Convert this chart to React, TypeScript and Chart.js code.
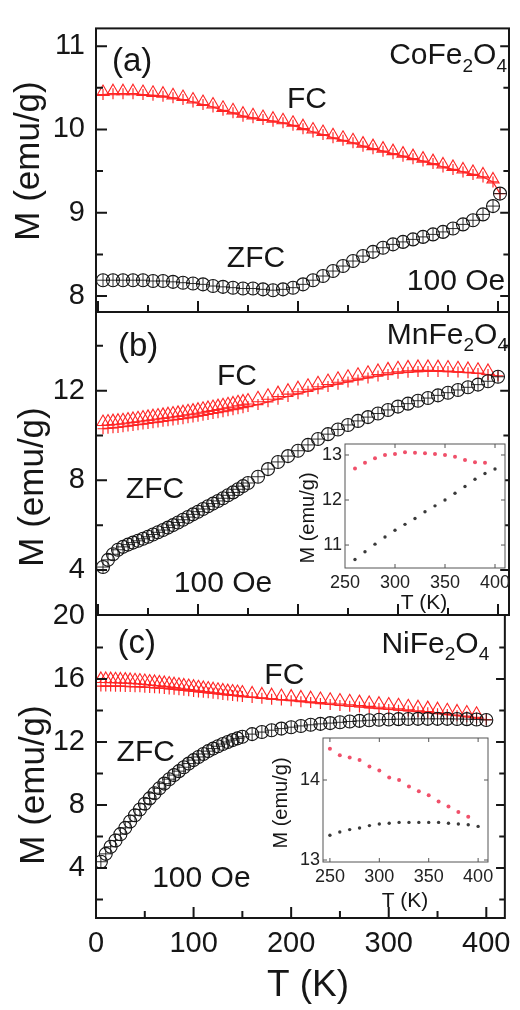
import { useEffect, useRef } from "react";
import { Chart, registerables } from "chart.js";

Chart.register(...registerables);

const W = 520;
const H = 1010;
const FONT = '"Liberation Sans", Arial, Helvetica, sans-serif';
const RED = "#ff2424";
const INK = "#161616";

// ---------- (a) CoFe2O4 ----------
const tempA = [5, 15, 25, 35, 45, 55, 65, 75, 85, 95, 105, 115, 125, 135, 145, 155, 165, 175, 185, 195, 205, 215, 225, 235, 245, 255, 265, 275, 285, 295, 305, 315, 325, 335, 345, 355, 365, 375, 385, 395, 402];
const fcLineA = [10.42, 10.43, 10.43, 10.43, 10.42, 10.41, 10.4, 10.38, 10.36, 10.33, 10.3, 10.27, 10.23, 10.2, 10.16, 10.14, 10.12, 10.1, 10.08, 10.05, 10.01, 9.97, 9.94, 9.9, 9.87, 9.84, 9.8, 9.77, 9.74, 9.71, 9.68, 9.65, 9.62, 9.59, 9.55, 9.52, 9.49, 9.46, 9.43, 9.37, 9.23];
const fcTriA = [10.45, 10.46, 10.46, 10.46, 10.45, 10.44, 10.43, 10.41, 10.39, 10.36, 10.33, 10.3, 10.26, 10.23, 10.19, 10.17, 10.15, 10.13, 10.11, 10.08, 10.04, 10.0, 9.97, 9.93, 9.9, 9.87, 9.83, 9.8, 9.77, 9.74, 9.71, 9.68, 9.65, 9.62, 9.58, 9.55, 9.52, 9.49, 9.46, 9.4, null];
const zfcA = [8.19, 8.19, 8.19, 8.19, 8.19, 8.18, 8.18, 8.17, 8.16, 8.15, 8.14, 8.12, 8.11, 8.1, 8.09, 8.09, 8.08, 8.07, 8.08, 8.1, 8.14, 8.19, 8.24, 8.3, 8.36, 8.42, 8.48, 8.53, 8.58, 8.62, 8.65, 8.68, 8.71, 8.74, 8.77, 8.81, 8.86, 8.91, 8.98, 9.08, 9.23];

// ---------- (b) MnFe2O4 and (c) NiFe2O4 share the temperature grid ----------
const tempBC = [5, 10, 15, 20, 25, 30, 35, 40, 45, 50, 55, 60, 65, 70, 75, 80, 85, 90, 95, 100, 105, 110, 115, 120, 125, 130, 135, 140, 145, 150, 160, 170, 180, 190, 200, 210, 220, 230, 240, 250, 260, 270, 280, 290, 300, 310, 320, 330, 340, 350, 360, 370, 380, 390, 400];

const fcLineB = [10.3, 10.32, 10.34, 10.36, 10.39, 10.42, 10.45, 10.48, 10.51, 10.54, 10.57, 10.6, 10.63, 10.66, 10.69, 10.72, 10.75, 10.79, 10.82, 10.86, 10.9, 10.94, 10.98, 11.02, 11.06, 11.1, 11.15, 11.19, 11.24, 11.29, 11.38, 11.5, 11.62, 11.74, 11.86, 11.97, 12.08, 12.19, 12.29, 12.39, 12.48, 12.57, 12.65, 12.72, 12.78, 12.82, 12.85, 12.86, 12.86, 12.85, 12.83, 12.8, 12.77, 12.72, 12.66];
const fcTriB = [10.6, 10.62, 10.64, 10.66, 10.68, 10.71, 10.74, 10.77, 10.8, 10.83, 10.86, 10.89, 10.92, 10.95, 10.98, 11.01, 11.04, 11.08, 11.11, 11.15, 11.19, 11.23, 11.27, 11.31, 11.35, 11.39, 11.43, 11.48, 11.52, 11.56, 11.66, 11.77, 11.89, 12.0, 12.11, 12.22, 12.33, 12.43, 12.53, 12.62, 12.71, 12.8, 12.88, 12.95, 13.0, 13.04, 13.06, 13.06, 13.05, 13.03, 13.0, 12.97, 12.93, 12.88, null];
const zfcB = [4.13, 4.45, 4.7, 4.9, 5.03, 5.13, 5.22, 5.3, 5.39, 5.48, 5.58, 5.68, 5.78, 5.89, 6.0, 6.12, 6.24, 6.36, 6.48, 6.6, 6.72, 6.84, 6.96, 7.08, 7.2, 7.33, 7.46, 7.6, 7.74, 7.88, 8.16, 8.5, 8.82, 9.08, 9.32, 9.58, 9.84, 10.06, 10.27, 10.47, 10.65, 10.82, 10.98, 11.14, 11.29, 11.42, 11.55, 11.67, 11.79, 11.91, 12.03, 12.15, 12.27, 12.42, 12.62];

const fcLineC = [15.55, 15.55, 15.55, 15.54, 15.54, 15.53, 15.52, 15.51, 15.5, 15.48, 15.46, 15.44, 15.42, 15.4, 15.37, 15.34, 15.31, 15.28, 15.25, 15.21, 15.18, 15.15, 15.12, 15.09, 15.06, 15.02, 14.99, 14.95, 14.92, 14.88, 14.83, 14.77, 14.72, 14.67, 14.62, 14.56, 14.5, 14.44, 14.38, 14.32, 14.27, 14.22, 14.17, 14.12, 14.07, 14.02, 13.97, 13.92, 13.86, 13.8, 13.74, 13.67, 13.6, 13.52, 13.42];
const fcTriC = [16.0, 16.0, 15.99, 15.98, 15.97, 15.96, 15.94, 15.92, 15.9, 15.87, 15.84, 15.81, 15.78, 15.75, 15.71, 15.67, 15.63, 15.59, 15.55, 15.51, 15.47, 15.43, 15.39, 15.35, 15.31, 15.27, 15.23, 15.2, 15.17, 15.14, 15.08, 15.02, 14.97, 14.92, 14.88, 14.83, 14.78, 14.73, 14.68, 14.63, 14.58, 14.53, 14.48, 14.43, 14.38, 14.33, 14.27, 14.21, 14.15, 14.08, 14.01, 13.94, 13.87, 13.79, null];
const zfcC = [4.4, 4.9, 5.35, 5.75, 6.15, 6.55, 6.95, 7.35, 7.72, 8.08, 8.42, 8.75, 9.06, 9.36, 9.64, 9.9, 10.15, 10.4, 10.63, 10.85, 11.05, 11.24, 11.42, 11.58, 11.73, 11.87, 12.0, 12.12, 12.23, 12.33, 12.5, 12.63, 12.75, 12.85, 12.94, 13.02, 13.09, 13.15, 13.2, 13.25, 13.3, 13.34, 13.38, 13.41, 13.43, 13.45, 13.46, 13.47, 13.47, 13.47, 13.47, 13.46, 13.45, 13.43, 13.4];

// ---------- insets (high-temperature detail) ----------
const insetTempFcB = [260, 270, 280, 290, 300, 310, 320, 330, 340, 350, 360, 370, 380, 390];
const insetFcB = [12.7, 12.83, 12.93, 13.0, 13.02, 13.06, 13.05, 13.04, 13.02, 13.0, 12.96, 12.89, 12.84, 12.83];
const insetTempZfcB = [260, 270, 280, 290, 300, 310, 320, 330, 340, 350, 360, 370, 380, 390, 400];
const insetZfcB = [10.68, 10.85, 11.02, 11.18, 11.33, 11.46, 11.59, 11.74, 11.87, 12.0, 12.15, 12.3, 12.46, 12.59, 12.69];

const insetTempFcC = [250, 260, 270, 280, 290, 300, 310, 320, 330, 340, 350, 360, 370, 380, 390];
const insetFcC = [14.39, 14.31, 14.28, 14.25, 14.17, 14.12, 14.03, 14.0, 13.92, 13.86, 13.81, 13.73, 13.67, 13.6, 13.54];
const insetTempZfcC = [250, 260, 270, 280, 290, 300, 310, 320, 330, 340, 350, 360, 370, 380, 390, 400];
const insetZfcC = [13.31, 13.35, 13.38, 13.4, 13.43, 13.45, 13.46, 13.47, 13.47, 13.47, 13.47, 13.47, 13.46, 13.45, 13.44, 13.42];

// ---------- tick values ----------
const xTicks = [0, 100, 200, 300, 400];
const xMinorTicks = [50, 150, 250, 350];
const yTicksA = [8, 9, 10, 11];
const yMinorA = [8.5, 9.5, 10.5];
const yTicksB = [4, 8, 12];
const yMinorB = [2, 6, 10, 14];
const yTicksC = [4, 8, 12, 16, 20];
const yMinorC = [2, 6, 10, 14, 18];
const insetXTicks = [250, 300, 350, 400];
const insetYTicksB = [11, 12, 13];
const insetYTicksC = [13, 14];

type Part = { t: string; sub?: boolean };
type Note = { parts: Part[]; x: number; y: number; align: "left" | "center" | "right"; size: number };
type PixText = { text: string; x: number; y: number; size: number; rotate?: boolean };

const pts = (xs: number[], ys: (number | null)[]) =>
  xs.map((x, i) => ({ x, y: ys[i] })).filter((p) => p.y !== null);

function drawParts(ctx: CanvasRenderingContext2D, parts: Part[], x: number, y: number, align: string, size: number) {
  const subSize = Math.round(size * 0.64);
  const widths = parts.map((p) => {
    ctx.font = `${p.sub ? subSize : size}px ${FONT}`;
    return ctx.measureText(p.t).width;
  });
  const total = widths.reduce((a, b) => a + b, 0);
  let cx = align === "left" ? x : align === "right" ? x - total : x - total / 2;
  ctx.textAlign = "left";
  ctx.textBaseline = "middle";
  parts.forEach((p, i) => {
    ctx.font = `${p.sub ? subSize : size}px ${FONT}`;
    ctx.fillText(p.t, cx, p.sub ? y + size * 0.34 : y);
    cx += widths[i];
  });
}

// Frame, inward tick marks, in-plot notes and axis titles
const decor = {
  id: "decor",
  beforeDatasetsDraw(chart: any, _a: any, o: any) {
    if (!o.fill) return;
    const { ctx, chartArea: c } = chart;
    ctx.save();
    ctx.fillStyle = o.fill;
    ctx.fillRect(c.left, c.top, c.right - c.left, c.bottom - c.top);
    ctx.restore();
  },
  afterDatasetsDraw(chart: any, _a: any, o: any) {
    const { ctx, chartArea: c, scales } = chart;
    const xs = scales.x;
    const ys = scales.y;
    ctx.save();
    ctx.strokeStyle = o.color;
    ctx.lineWidth = o.lineWidth;
    ctx.beginPath();
    const xGroups: [number[], number][] = [[o.xMajor, o.majorLen], [o.xMinor, o.minorLen]];
    for (const [vals, len] of xGroups) {
      for (const v of vals) {
        const px = xs.getPixelForValue(v);
        if (px < c.left + 1 || px > c.right - 1) continue;
        ctx.moveTo(px, c.bottom);
        ctx.lineTo(px, c.bottom - len);
        if (o.top) {
          ctx.moveTo(px, c.top);
          ctx.lineTo(px, c.top + len * o.top);
        }
      }
    }
    const yGroups: [number[], number][] = [[o.yMajor, o.majorLen], [o.yMinor, o.minorLen]];
    for (const [vals, len] of yGroups) {
      for (const v of vals) {
        const py = ys.getPixelForValue(v);
        if (py < c.top + 1 || py > c.bottom - 1) continue;
        ctx.moveTo(c.left, py);
        ctx.lineTo(c.left + len, py);
        if (o.right) {
          ctx.moveTo(c.right, py);
          ctx.lineTo(c.right - len * o.right, py);
        }
      }
    }
    ctx.stroke();
    ctx.strokeRect(c.left, c.top, c.right - c.left, c.bottom - c.top);
    ctx.restore();
  },
  afterDraw(chart: any, _a: any, o: any) {
    const { ctx, scales } = chart;
    ctx.save();
    ctx.fillStyle = INK;
    for (const n of (o.notes || []) as Note[]) {
      drawParts(ctx, n.parts, scales.x.getPixelForValue(n.x), scales.y.getPixelForValue(n.y), n.align, n.size);
    }
    for (const t of (o.titles || []) as PixText[]) {
      ctx.save();
      ctx.font = `${t.size}px ${FONT}`;
      ctx.textAlign = "center";
      ctx.textBaseline = "middle";
      ctx.translate(t.x, t.y);
      if (t.rotate) ctx.rotate(-Math.PI / 2);
      ctx.fillText(t.text, 0, 0);
      ctx.restore();
    }
    ctx.restore();
  },
};

type Panel = {
  area: { left: number; top: number; right: number; bottom: number };
  xMin: number;
  xMax: number;
  yMin: number;
  yMax: number;
  yTicks: number[];
  yMinor: number[];
  showX: boolean;
  temps: number[];
  fcLine: (number | null)[];
  fcTri: (number | null)[];
  zfc: number[];
  notes: Note[];
  titles: PixText[];
};

function mainConfig(p: Panel) {
  const xAxisH = p.showX ? H - p.area.bottom : 0;
  return {
    type: "scatter",
    data: {
      datasets: [
        { data: pts(p.temps, p.zfc), pointStyle: "circle", pointRadius: 6.5, borderColor: INK, backgroundColor: "rgba(0,0,0,0)", borderWidth: 1.1 },
        { data: pts(p.temps, p.zfc), pointStyle: "cross", pointRadius: 6.5, borderColor: INK, borderWidth: 0.9 },
        { data: pts(p.temps, p.fcTri), pointStyle: "triangle", pointRadius: 7, borderColor: RED, backgroundColor: "rgba(0,0,0,0)", borderWidth: 1.1 },
        { data: pts(p.temps, p.fcLine), pointStyle: "cross", pointRadius: 5.5, borderColor: RED, borderWidth: 1.2, showLine: true },
      ],
    },
    options: {
      animation: false,
      responsive: false,
      devicePixelRatio: 1,
      events: [],
      layout: { padding: { left: 0, top: p.area.top, right: W - p.area.right, bottom: H - p.area.bottom - xAxisH } },
      plugins: {
        legend: { display: false },
        tooltip: { enabled: false },
        decor: {
          color: INK,
          lineWidth: 2,
          majorLen: 11,
          minorLen: 7,
          right: 0.8,
          top: 0,
          xMajor: xTicks,
          xMinor: xMinorTicks,
          yMajor: p.yTicks,
          yMinor: p.yMinor,
          notes: p.notes,
          titles: p.titles,
        },
      },
      scales: {
        x: {
          type: "linear",
          min: p.xMin,
          max: p.xMax,
          afterBuildTicks: (s: any) => {
            s.ticks = xTicks.map((v) => ({ value: v }));
          },
          afterFit: (s: any) => {
            s.height = xAxisH;
          },
          grid: { display: false, drawTicks: false },
          border: { display: false },
          ticks: { display: p.showX, color: INK, padding: 9, maxRotation: 0, autoSkip: false, font: { family: FONT, size: 29 } },
        },
        y: {
          type: "linear",
          min: p.yMin,
          max: p.yMax,
          afterBuildTicks: (s: any) => {
            s.ticks = p.yTicks.map((v) => ({ value: v }));
          },
          afterFit: (s: any) => {
            s.width = p.area.left;
          },
          grid: { display: false, drawTicks: false },
          border: { display: false },
          ticks: { color: INK, padding: 11, autoSkip: false, font: { family: FONT, size: 29 } },
        },
      },
    },
  };
}

type Inset = {
  area: { left: number; top: number; right: number; bottom: number };
  xMin: number;
  xMax: number;
  yMin: number;
  yMax: number;
  yTicks: number[];
  fcT: number[];
  fc: number[];
  zfcT: number[];
  zfc: number[];
  titles: PixText[];
};

function insetConfig(p: Inset) {
  const xAxisH = 34;
  return {
    type: "scatter",
    data: {
      datasets: [
        { data: pts(p.zfcT, p.zfc), pointStyle: "circle", pointRadius: 1.7, borderWidth: 0, backgroundColor: "#3a3a3a" },
        { data: pts(p.fcT, p.fc), pointStyle: "circle", pointRadius: 2, borderWidth: 0, backgroundColor: "#f0506a" },
      ],
    },
    options: {
      animation: false,
      responsive: false,
      devicePixelRatio: 1,
      events: [],
      layout: { padding: { left: 0, top: p.area.top, right: W - p.area.right, bottom: H - p.area.bottom - xAxisH } },
      plugins: {
        legend: { display: false },
        tooltip: { enabled: false },
        decor: {
          fill: "#ffffff",
          color: "#555555",
          lineWidth: 1,
          majorLen: 4,
          minorLen: 0,
          right: 1,
          top: 1,
          xMajor: insetXTicks,
          xMinor: [],
          yMajor: p.yTicks,
          yMinor: [],
          titles: p.titles,
        },
      },
      scales: {
        x: {
          type: "linear",
          min: p.xMin,
          max: p.xMax,
          afterBuildTicks: (s: any) => {
            s.ticks = insetXTicks.map((v) => ({ value: v }));
          },
          afterFit: (s: any) => {
            s.height = xAxisH;
          },
          grid: { display: false, drawTicks: false },
          border: { display: false },
          ticks: { color: "#222", padding: 4, maxRotation: 0, autoSkip: false, font: { family: FONT, size: 18 } },
        },
        y: {
          type: "linear",
          min: p.yMin,
          max: p.yMax,
          afterBuildTicks: (s: any) => {
            s.ticks = p.yTicks.map((v) => ({ value: v }));
          },
          afterFit: (s: any) => {
            s.width = p.area.left;
          },
          grid: { display: false, drawTicks: false },
          border: { display: false },
          ticks: { color: "#222", padding: 3, autoSkip: false, font: { family: FONT, size: 18 } },
        },
      },
    },
  };
}

const panelA: Panel = {
  area: { left: 96, top: 10, right: 509, bottom: 312 },
  xMin: -2,
  xMax: 411,
  yMin: 7.808,
  yMax: 11.214,
  yTicks: yTicksA,
  yMinor: yMinorA,
  showX: false,
  temps: tempA,
  fcLine: fcLineA,
  fcTri: fcTriA,
  zfc: zfcA,
  notes: [
    { parts: [{ t: "(a)" }], x: 14, y: 10.81, align: "left", size: 33 },
    { parts: [{ t: "CoFe" }, { t: "2", sub: true }, { t: "O" }, { t: "4", sub: true }], x: 409, y: 10.88, align: "right", size: 30 },
    { parts: [{ t: "FC" }], x: 209, y: 10.36, align: "center", size: 30 },
    { parts: [{ t: "ZFC" }], x: 158, y: 8.45, align: "center", size: 30 },
    { parts: [{ t: "100 Oe" }], x: 358, y: 8.17, align: "center", size: 30 },
  ],
  titles: [{ text: "M (emu/g)", x: 29, y: 161, size: 35, rotate: true }],
};

const panelB: Panel = {
  area: { left: 96, top: 312, right: 509, bottom: 615 },
  xMin: -2,
  xMax: 411,
  yMin: 1.99,
  yMax: 15.51,
  yTicks: yTicksB,
  yMinor: yMinorB,
  showX: false,
  temps: tempBC,
  fcLine: fcLineB,
  fcTri: fcTriB,
  zfc: zfcB,
  notes: [
    { parts: [{ t: "(b)" }], x: 20, y: 13.95, align: "left", size: 33 },
    { parts: [{ t: "MnFe" }, { t: "2", sub: true }, { t: "O" }, { t: "4", sub: true }], x: 410, y: 14.44, align: "right", size: 30 },
    { parts: [{ t: "FC" }], x: 139, y: 12.61, align: "center", size: 30 },
    { parts: [{ t: "ZFC" }], x: 57, y: 7.57, align: "center", size: 30 },
    { parts: [{ t: "100 Oe" }], x: 125, y: 3.37, align: "center", size: 30 },
  ],
  titles: [{ text: "M (emu/g)", x: 33, y: 487, size: 35, rotate: true }],
};

const panelC: Panel = {
  area: { left: 96, top: 615, right: 509, bottom: 918 },
  xMin: 0,
  xMax: 419,
  yMin: 0.83,
  yMax: 20.06,
  yTicks: yTicksC,
  yMinor: yMinorC,
  showX: true,
  temps: tempBC,
  fcLine: fcLineC,
  fcTri: fcTriC,
  zfc: zfcC,
  notes: [
    { parts: [{ t: "(c)" }], x: 22, y: 18.22, align: "left", size: 33 },
    { parts: [{ t: "NiFe" }, { t: "2", sub: true }, { t: "O" }, { t: "4", sub: true }], x: 403, y: 18.16, align: "right", size: 30 },
    { parts: [{ t: "FC" }], x: 193, y: 16.19, align: "center", size: 30 },
    { parts: [{ t: "ZFC" }], x: 51, y: 11.3, align: "center", size: 30 },
    { parts: [{ t: "100 Oe" }], x: 108, y: 3.3, align: "center", size: 30 },
  ],
  titles: [
    { text: "M (emu/g)", x: 34, y: 785, size: 35, rotate: true },
    { text: "T (K)", x: 308, y: 986, size: 37 },
  ],
};

const insetB: Inset = {
  area: { left: 345, top: 444, right: 505, bottom: 568 },
  xMin: 250,
  xMax: 410,
  yMin: 10.49,
  yMax: 13.244,
  yTicks: insetYTicksB,
  fcT: insetTempFcB,
  fc: insetFcB,
  zfcT: insetTempZfcB,
  zfc: insetZfcB,
  titles: [
    { text: "M (emu/g)", x: 308, y: 518, size: 20, rotate: true },
    { text: "T (K)", x: 424, y: 603, size: 21 },
  ],
};

const insetC: Inset = {
  area: { left: 323, top: 738, right: 488, bottom: 862 },
  xMin: 243,
  xMax: 410,
  yMin: 12.975,
  yMax: 14.525,
  yTicks: insetYTicksC,
  fcT: insetTempFcC,
  fc: insetFcC,
  zfcT: insetTempZfcC,
  zfc: insetZfcC,
  titles: [
    { text: "M (emu/g)", x: 281, y: 803, size: 20, rotate: true },
    { text: "T (K)", x: 405, y: 901, size: 21 },
  ],
};

export default function App() {
  const canvases = useRef<(HTMLCanvasElement | null)[]>([]);

  useEffect(() => {
    const configs = [mainConfig(panelA), mainConfig(panelB), mainConfig(panelC), insetConfig(insetB), insetConfig(insetC)];
    const charts = configs.map((cfg, i) => {
      const c = cfg as any;
      c.plugins = [decor];
      return new Chart(canvases.current[i] as HTMLCanvasElement, c);
    });
    return () => charts.forEach((ch) => ch.destroy());
  }, []);

  return (
    <div style={{ position: "fixed", left: 0, top: 0, width: W, height: H, background: "#ffffff", overflow: "hidden" }}>
      {[0, 1, 2, 3, 4].map((i) => (
        <canvas
          key={i}
          ref={(el) => {
            canvases.current[i] = el;
          }}
          width={W}
          height={H}
          style={{ position: "absolute", left: 0, top: 0, width: W, height: H }}
        />
      ))}
    </div>
  );
}
